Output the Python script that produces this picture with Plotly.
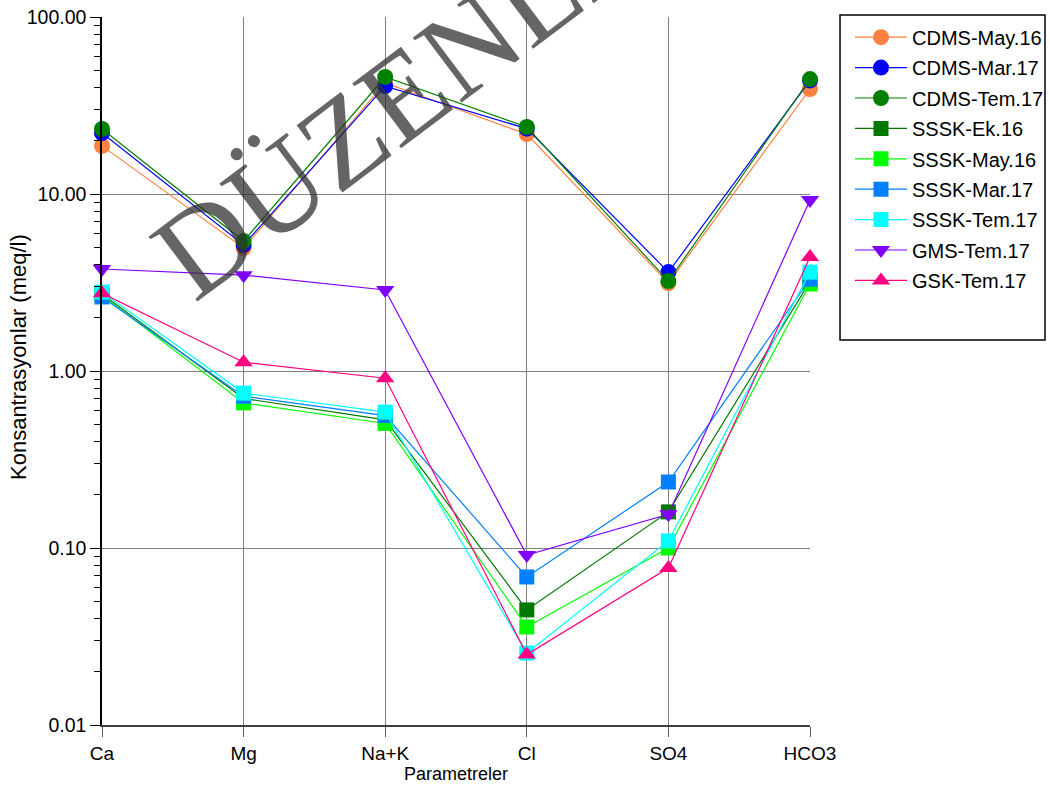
import plotly.graph_objects as go

categories = ["Ca", "Mg", "Na+K", "Cl", "SO4", "HCO3"]

cdms_may16 = [18.7, 4.95, 42.4, 21.8, 3.14, 39.2]
cdms_mar17 = [22.1, 5.15, 40.7, 23.4, 3.62, 43.8]
cdms_tem17 = [23.3, 5.42, 45.8, 23.9, 3.22, 44.6]
sssk_ek16 = [2.72, 0.70, 0.53, 0.0447, 0.160, 3.2]
sssk_may16 = [2.68, 0.66, 0.505, 0.0358, 0.100, 3.1]
sssk_mar17 = [2.62, 0.72, 0.56, 0.0686, 0.236, 3.3]
sssk_tem17 = [2.79, 0.75, 0.586, 0.0255, 0.1096, 3.62]
gms_tem17 = [3.77, 3.48, 2.87, 0.0912, 0.155, 9.25]
gsk_tem17 = [2.75, 1.12, 0.91, 0.025, 0.077, 4.4]

series_names = ["CDMS-May.16", "CDMS-Mar.17", "CDMS-Tem.17", "SSSK-Ek.16", "SSSK-May.16",
                "SSSK-Mar.17", "SSSK-Tem.17", "GMS-Tem.17", "GSK-Tem.17"]
series_values = [cdms_may16, cdms_mar17, cdms_tem17, sssk_ek16, sssk_may16,
                 sssk_mar17, sssk_tem17, gms_tem17, gsk_tem17]
colors = ["#FF8040", "#0000FF", "#008000", "#007800", "#00FF00",
          "#0080FF", "#00FFFF", "#8000FF", "#FF0080"]
symbols = ["circle", "circle", "circle", "square", "square",
           "square", "square", "triangle-down", "triangle-up"]
sizes = [16, 16, 16, 15, 15, 15, 15, 16, 16]

ytick_vals = [0.01, 0.1, 1, 10, 100]
ytick_text = ["0.01", "0.10", "1.00", "10.00", "100.00"]
minor_vals = [m * d for d in [0.01, 0.1, 1, 10] for m in range(2, 10)]

fig = go.Figure()
for i, (name, vals) in enumerate(zip(series_names, series_values)):
    fig.add_trace(go.Scatter(
        x=categories, y=vals, name=name, mode="lines+markers",
        line=dict(color=colors[i], width=1.2),
        marker=dict(color=colors[i], symbol=symbols[i], size=sizes[i], line=dict(width=0)),
        cliponaxis=False, legendgroup=name,
    ))

font_family = "Liberation Sans, Arial, sans-serif"

fig.update_layout(
    width=1050, height=787,
    margin=dict(l=102, r=240, t=17, b=62, autoexpand=False),
    paper_bgcolor="white", plot_bgcolor="white",
    font=dict(family=font_family, size=18, color="black"),
    showlegend=True,
    legend=dict(x=1.0565, y=0.999, xanchor="left", yanchor="top",
                bgcolor="rgba(0,0,0,0)", borderwidth=0,
                font=dict(size=20, family=font_family),
                tracegroupgap=1.4, itemsizing="trace", itemwidth=52),
    xaxis=dict(type="category", range=[0, 5], showgrid=True, gridcolor="#808080", gridwidth=1,
               showline=True, linecolor="#404040", linewidth=1.5,
               ticks="outside", ticklen=10, tickcolor="#606060",
               tickfont=dict(size=19), zeroline=False,
               title=dict(text="Parametreler", font=dict(size=18), standoff=5)),
    yaxis=dict(type="log", range=[-2, 2], tickmode="array", tickvals=ytick_vals, ticktext=ytick_text,
               showgrid=True, gridcolor="#808080", gridwidth=1,
               showline=True, linecolor="black", linewidth=1.5,
               ticks="outside", ticklen=10, tickcolor="black",
               tickfont=dict(size=19.5), zeroline=False,
               minor=dict(tickmode="array", tickvals=minor_vals, ticks="outside", ticklen=6,
                          tickcolor="black", showgrid=False)),
    shapes=[dict(type="rect", xref="paper", yref="paper",
                 x0=1.0424, x1=1.3319, y0=0.5438, y1=1.0028,
                 line=dict(color="black", width=1.5))],
    annotations=[
        dict(text="Konsantrasyonlar (meq/l)", xref="paper", yref="paper",
             x=(18 - 102) / 708, y=(725 - 357) / 708, xanchor="center", yanchor="middle",
             showarrow=False, textangle=-90, font=dict(size=22, family=font_family)),
        dict(text="DÜZENLENDİ", xref="paper", yref="paper", x=0.542, y=0.978,
             xanchor="center", yanchor="middle",
             showarrow=False, textangle=-37,
             font=dict(family="Liberation Serif, Times New Roman, serif", size=124,
                       color="rgba(50,50,50,0.75)")),
    ],
)

fig.write_html("out.html")
